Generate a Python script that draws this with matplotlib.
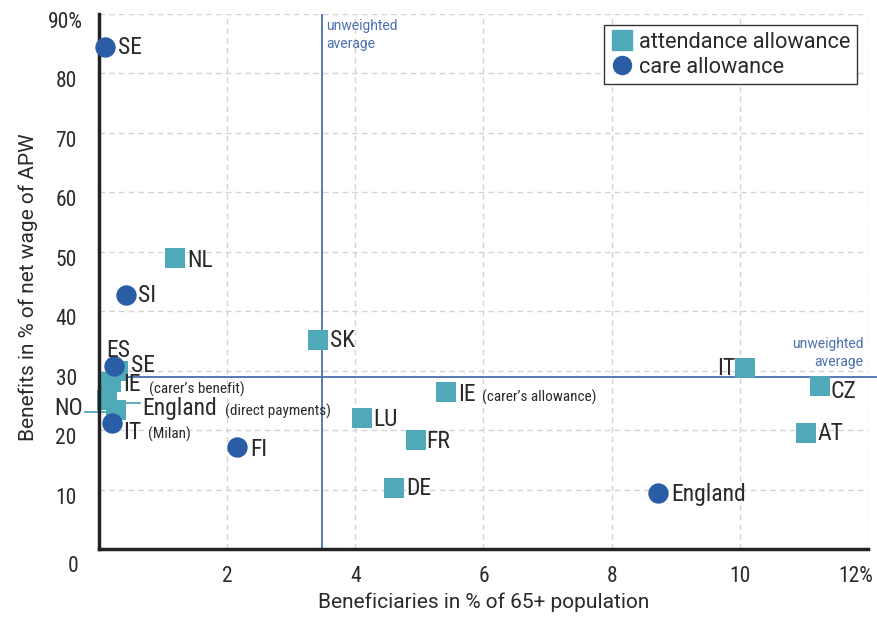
import matplotlib
matplotlib.use("Agg")
import matplotlib.pyplot as plt
import matplotlib.transforms as mtransforms
from matplotlib.lines import Line2D

# ---- data ----
att_names = ["NL", "SK", "ES", "IE", "NO", "England", "IE", "LU", "FR", "DE", "IT", "CZ", "AT"]
att_x = [1.19, 3.42, 0.30, 0.19, 0.12, 0.27, 5.42, 4.11, 4.94, 4.61, 10.08, 11.25, 11.03]
att_y = [48.9, 35.1, 30.0, 28.1, 25.0, 23.4, 26.4, 22.0, 18.3, 10.3, 30.4, 27.4, 19.5]
att_sub = ["", "", "", "(carer\u2019s benefit)", "", "(direct payments)", "(carer\u2019s allowance)",
           "", "", "", "", "", ""]

care_names = ["SE", "SI", "SE", "IT", "FI", "England"]
care_x = [0.09, 0.42, 0.23, 0.20, 2.16, 8.73]
care_y = [84.5, 42.7, 30.8, 21.2, 17.1, 9.4]
care_sub = ["", "", "", "(Milan)", "", ""]

avg_x = 3.48
avg_y = 28.9

x_ticks = [2, 4, 6, 8, 10, 12]
x_labels = ["2", "4", "6", "8", "10", "12%"]
y_ticks = [10, 20, 30, 40, 50, 60, 70, 80, 90]
y_labels = ["10", "20", "30", "40", "50", "60", "70", "80", "90%"]

# label offsets in pixels: (dx, dy, ha, sub_dx, sub_dy)
att_off = [(12, -2, "left", 0, 0), (12, 0, "left", 0, 0), (0, 20, "center", 0, 0),
           (12, -3, "left", 38, -7), (-24, -8, "right", 0, 0), (26, 1, "left", 109, -1),
           (12, -2, "left", 36, -5), (11, -1, "left", 0, 0), (11, -1, "left", 0, 0),
           (12, -1, "left", 0, 0), (-10, 0, "right", 0, 0), (11, -5, "left", 0, 0),
           (12, 0, "left", 0, 0)]
care_off = [(13, -1, "left", 0, 0), (12, 0, "left", 0, 0), (17, 0, "left", 0, 0),
            (11, -10, "left", 36, -11), (13, -2, "left", 0, 0), (13, -1, "left", 0, 0)]

teal = "#4fa9b8"
blue = "#2b5ca6"
avg_col = "#4a6fb0"
txt = "#2a2a2a"
narrow = ["Roboto Condensed", "Roboto", "DejaVu Sans"]
plain = ["Roboto", "DejaVu Sans"]

fig = plt.figure(figsize=(8.78, 6.17), dpi=100)
ax = fig.add_axes([99 / 878, 1 - 549 / 617, (868 - 99) / 878, (549 - 14) / 617])
ax.set_xlim(0, 12)
ax.set_ylim(0, 90)

ax.grid(True, color="#d4d4d4", linestyle=(0, (4, 3)), linewidth=1)
ax.set_axisbelow(True)
for s in ["top", "right"]:
    ax.spines[s].set_visible(False)
for s in ["left", "bottom"]:
    ax.spines[s].set_linewidth(2.5)
    ax.spines[s].set_color("#222222")
    ax.spines[s].set_zorder(5)

ax.set_xticks(x_ticks)
ax.set_xticklabels(x_labels, family=narrow, fontsize=15.5, color=txt)
ax.set_yticks(y_ticks)
ax.set_yticklabels(y_labels, family=narrow, fontsize=15.5, color=txt)
ax.tick_params(axis="both", length=0)
ax.tick_params(axis="y", pad=16)
ax.tick_params(axis="x", pad=12)
# y tick labels sit a little below their grid lines
shift = mtransforms.ScaledTranslation(0, -6 / 100, fig.dpi_scale_trans)
for lab in ax.get_yticklabels():
    lab.set_transform(lab.get_transform() + shift)
ax.get_yticklabels()[-1].set_transform(ax.get_yticklabels()[-1].get_transform()
                                       + mtransforms.ScaledTranslation(6 / 100, 0, fig.dpi_scale_trans))
last = ax.get_xticklabels()[-1]
last.set_horizontalalignment("right")
last.set_transform(last.get_transform() + mtransforms.ScaledTranslation(5 / 100, 0, fig.dpi_scale_trans))
fig.text(73 / 878, 1 - 567 / 617, "0", family=narrow, fontsize=15.5, color=txt,
         ha="center", va="center")

ax.set_xlabel("Beneficiaries in % of 65+ population", family=plain, fontsize=15,
              color=txt, labelpad=4)
ax.set_ylabel("Benefits in % of net wage of APW", family=plain, fontsize=15,
              color=txt)
ax.yaxis.set_label_coords(-61 / 769, 0.49)

# average lines
ax.axvline(avg_x, color=avg_col, lw=1.3, zorder=2)
ax.plot([0, 12.12], [avg_y, avg_y], color=avg_col, lw=1.3, zorder=2, clip_on=False)
ax.text(avg_x + 0.06, 89.2, "unweighted\naverage", family=plain, fontsize=10,
        color=avg_col, ha="left", va="top", linespacing=1.35)
ax.text(11.93, avg_y + 1.4, "unweighted\naverage", family=plain, fontsize=10,
        color=avg_col, ha="right", va="bottom", linespacing=1.35)

# leader lines for NO / England
ax.plot([-0.22, 0.12], [23.0, 23.0], color=teal, lw=1.3, clip_on=False, zorder=3)
ax.plot([0.30, 0.64], [24.6, 24.6], color=teal, lw=1.3, clip_on=False, zorder=3)

ax.scatter(att_x, att_y, marker="s", s=200, color=teal, zorder=4, linewidths=0,
           clip_on=False)
ax.scatter(care_x, care_y, marker="o", s=215, color=blue, zorder=6, linewidths=0,
           clip_on=False)


def put_labels(xs, ys, names, subs, offs):
    for x, y, n, sub, (dx, dy, ha, sdx, sdy) in zip(xs, ys, names, subs, offs):
        ax.annotate(n, (x, y), xytext=(dx, dy), textcoords="offset pixels",
                    ha=ha, va="center", family=narrow, fontsize=17, color=txt,
                    zorder=7, annotation_clip=False)
        if sub:
            ax.annotate(sub, (x, y), xytext=(sdx, sdy), textcoords="offset pixels",
                        ha="left", va="center", family=narrow, fontsize=11,
                        color=txt, zorder=7, annotation_clip=False)


put_labels(att_x, att_y, att_names, att_sub, att_off)
put_labels(care_x, care_y, care_names, care_sub, care_off)

handles = [Line2D([], [], marker="s", color=teal, ls="", markersize=14),
           Line2D([], [], marker="o", color=blue, ls="", markersize=13)]
leg = ax.legend(handles, ["attendance allowance", "care allowance"],
                loc="upper right", bbox_to_anchor=(857 / 878, 1 - 25 / 617),
                bbox_transform=fig.transFigure, prop={"family": plain, "size": 15.7},
                frameon=True, fancybox=False, handletextpad=0.3, handlelength=1.0,
                borderpad=0.3, labelspacing=0.2, borderaxespad=0, framealpha=1)
leg.get_frame().set_edgecolor("#333333")
leg.get_frame().set_linewidth(1)
for t in leg.get_texts():
    t.set_color(txt)

fig.savefig("out.png", dpi=100)
